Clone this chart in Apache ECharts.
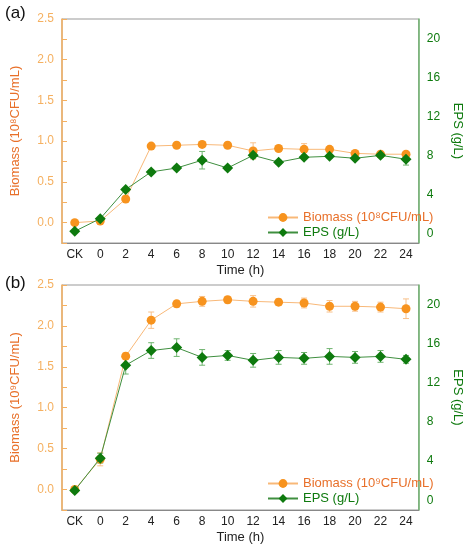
<!DOCTYPE html><html><head><meta charset="utf-8"><script src="https://cdn.jsdelivr.net/npm/echarts@6/dist/echarts.min.js"></script></head><body style="margin:0"><div id="c" style="width:472px;height:550px"></div><script>
const categories=['CK','0','2','4','6','8','10','12','14','16','18','20','22','24'];
const biomassA=[0.0,0.02,0.29,0.94,0.95,0.96,0.95,0.88,0.91,0.90,0.90,0.85,0.84,0.84];
const biomassAErr=[0.01,0.02,0.02,0.02,0.02,0.02,0.02,0.1,0.03,0.07,0.03,0.02,0.02,0.03];
const epsA=[0.2,1.5,4.5,6.3,6.7,7.5,6.7,8.0,7.3,7.8,7.9,7.7,8.0,7.6];
const epsAErr=[0.1,0.1,0.2,0.2,0.2,0.9,0.2,0.3,0.2,0.2,0.2,0.2,0.2,0.6];
const biomassB=[0.0,0.37,1.63,2.07,2.27,2.30,2.32,2.30,2.29,2.28,2.24,2.24,2.23,2.21];
const biomassBErr=[0.01,0.08,0.04,0.1,0.04,0.06,0.04,0.07,0.04,0.06,0.07,0.06,0.06,0.12];
const epsB=[1.0,4.3,13.8,15.3,15.6,14.6,14.8,14.3,14.6,14.5,14.7,14.6,14.7,14.4];
const epsBErr=[0.1,0.5,0.9,0.8,0.9,0.8,0.5,0.7,0.7,0.6,0.8,0.6,0.6,0.4];
const OR='#f7931e',GR='#0e7a0e',ORA='#f5b060',GRA='#6fb46f';
const font='Liberation Sans';
function errSeries(data,err,xi,yi,color){
  return {type:'custom',xAxisIndex:xi,yAxisIndex:yi,silent:true,z:1,
    data:data.map((v,i)=>[i,v,err[i]]),
    renderItem:(p,api)=>{const i=api.value(0),v=api.value(1),e=api.value(2);
      const a=api.coord([i,v+e]),b=api.coord([i,v-e]);
      const s={stroke:color,lineWidth:1};
      return {type:'group',children:[
        {type:'line',shape:{x1:a[0],y1:a[1],x2:b[0],y2:b[1]},style:s},
        {type:'line',shape:{x1:a[0]-3,y1:a[1],x2:a[0]+3,y2:a[1]},style:s},
        {type:'line',shape:{x1:b[0]-3,y1:b[1],x2:b[0]+3,y2:b[1]},style:s}]};}};
}
const grids=[{left:62,right:49,top:19,height:224,show:true,borderColor:'#999'},{left:62,right:49,top:285,height:225,show:true,borderColor:'#999'}];
const xAxis=[0,1].map(g=>({type:'category',gridIndex:g,data:categories,boundaryGap:true,
  axisLine:{onZero:false,lineStyle:{color:'#888'}},axisTick:{alignWithLabel:true,lineStyle:{color:'#888'}},
  axisLabel:{color:'#222',fontSize:12,fontFamily:font,margin:6},
  name:'Time (h)',nameLocation:'middle',nameGap:21,nameTextStyle:{color:'#222',fontSize:13,fontFamily:font}}));
const yAxis=[];
[0,1].forEach(g=>{
  yAxis.push({type:'value',gridIndex:g,min:-0.25,max:2.5,interval:0.25,position:'left',
    axisLine:{show:true,onZero:false,lineStyle:{color:ORA,width:1.5}},axisTick:{show:true,inside:true,lineStyle:{color:ORA}},splitLine:{show:false},
    axisLabel:{color:ORA,fontSize:12,fontFamily:font,formatter:v=>Math.abs((v*2)%1)<1e-6?v.toFixed(1):''},
    name:g?'Biomass (10⁹CFU/mL)':'Biomass (10⁸CFU/mL)',nameLocation:'middle',nameGap:40,nameRotate:90,
    nameTextStyle:{color:'#e8702a',fontSize:13,fontFamily:font}});
  yAxis.push({type:'value',gridIndex:g,min:-1,max:22,interval:1,position:'right',
    axisLine:{show:true,onZero:false,lineStyle:{color:GRA,width:1.5}},axisTick:{show:false},splitLine:{show:false},
    axisLabel:{color:GR,fontSize:12,fontFamily:font,formatter:v=>v%4===0?String(v):''},
    name:'EPS (g/L)',nameLocation:'middle',nameGap:32,nameRotate:-90,
    nameTextStyle:{color:GR,fontSize:13,fontFamily:font}});
});
const series=[];
[[biomassA,biomassAErr,epsA,epsAErr],[biomassB,biomassBErr,epsB,epsBErr]].forEach((d,g)=>{
  series.push(errSeries(d[0],d[1],g,2*g,'#f8c08a'));
  series.push(errSeries(d[2],d[3],g,2*g+1,GRA));
  series.push({type:'line',name:'Biomass (10'+(g?'⁹':'⁸')+'CFU/mL)',xAxisIndex:g,yAxisIndex:2*g,data:d[0],symbol:'circle',symbolSize:9,
    itemStyle:{color:OR},lineStyle:{color:'#f8b878',width:1},z:3});
  series.push({type:'line',name:'EPS (g/L)'+(g?' ':''),xAxisIndex:g,yAxisIndex:2*g+1,data:d[2],symbol:'diamond',symbolSize:11,
    itemStyle:{color:GR},lineStyle:{color:'#3f8f3f',width:1},z:4});
});
const legendBase={orient:'vertical',itemWidth:30,itemHeight:11,itemGap:2,textStyle:{fontSize:13,fontFamily:font}};
const chart=echarts.init(document.getElementById('c'),null,{renderer:'canvas'});
chart.setOption({animation:false,grid:grids,xAxis,yAxis,series,
  legend:[
    Object.assign({},legendBase,{left:262,top:206,data:[{name:'Biomass (10⁸CFU/mL)',textStyle:{color:'#e8702a'}},{name:'EPS (g/L)',textStyle:{color:GR}}]}),
    Object.assign({},legendBase,{left:262,top:472,data:[{name:'Biomass (10⁹CFU/mL)',textStyle:{color:'#e8702a'}},{name:'EPS (g/L) ',textStyle:{color:GR}}]})],
  graphic:[{type:'text',left:5,top:5,style:{text:'(a)',fontSize:17,fontFamily:font,fill:'#111'}},
           {type:'text',left:5,top:275,style:{text:'(b)',fontSize:17,fontFamily:font,fill:'#111'}}]});
</script></body></html>
